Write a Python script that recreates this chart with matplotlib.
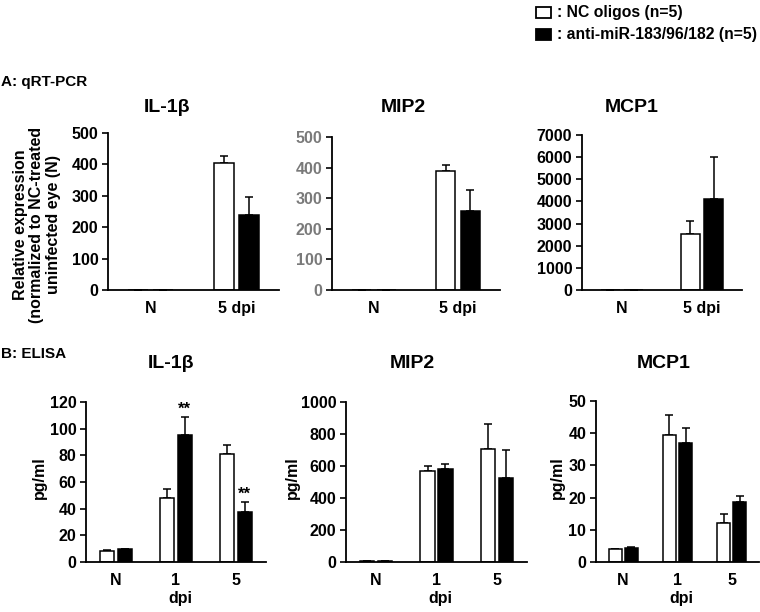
import matplotlib
matplotlib.use("Agg")
import matplotlib.pyplot as plt
import numpy as np
from matplotlib.patches import Rectangle

plt.rcParams['font.family'] = ['Liberation Sans', 'DejaVu Sans']
plt.rcParams['font.weight'] = 'bold'

# ---- Data ----
qpcr_cats = ['N', '5 dpi']
qpcr_titles = ['IL-1β', 'MIP2', 'MCP1']
qpcr_nc = [[1, 405], [1, 389], [1, 2529]]
qpcr_nc_err = [[0, 23], [0, 18], [0, 587]]
qpcr_anti = [[1, 238], [1, 259], [1, 4124]]
qpcr_anti_err = [[0, 58], [0, 67], [0, 1897]]
qpcr_ymax = [500, 500, 7000]
qpcr_ystep = [100, 100, 1000]

elisa_cats = ['N', '1', '5']
elisa_titles = ['IL-1β', 'MIP2', 'MCP1']
elisa_nc = [[8.5, 48.3, 81.2], [5, 569, 704], [4.0, 39.4, 12.1]]
elisa_nc_err = [[0.2, 6.2, 6.2], [1, 31, 158], [0.1, 6.4, 2.8]]
elisa_anti = [[9.5, 95.6, 37.6], [5, 579, 523], [4.2, 37.0, 18.6]]
elisa_anti_err = [[0.2, 13.0, 7.2], [1, 31, 177], [0.4, 4.5, 1.8]]
elisa_ymax = [120, 1000, 50]
elisa_ystep = [20, 200, 10]
elisa_stars = [[None, '**', '**'], [None, None, None], [None, None, None]]

W, H = 760, 612
fig = plt.figure(figsize=(W / 100, H / 100), dpi=100)

FS = 11.5


def add_ax(left, right, top, bottom):
    return fig.add_axes([left / W, 1 - bottom / H, (right - left) / W, (bottom - top) / H])


def draw(ax, cats, nc, nce, anti, antie, ymax, ystep, tickcolor='black', stars=None):
    x = np.arange(len(cats))
    w = 0.235
    off = 0.148
    ax.bar(x - off, nc, w, color='white', edgecolor='black', linewidth=1.1, zorder=2)
    ax.bar(x + off, anti, w, color='black', edgecolor='black', linewidth=1.1, zorder=2)
    for xs, vals, errs in ((x - off, nc, nce), (x + off, anti, antie)):
        ax.errorbar(xs, vals, yerr=[np.zeros(len(vals)), errs], fmt='none',
                    ecolor='black', elinewidth=1.1, capsize=3, capthick=1.1, zorder=1)
    if stars:
        for i, s in enumerate(stars):
            if s:
                ax.text(x[i] + off, anti[i] + antie[i] + ymax * 0.005, s, ha='center', va='bottom',
                        fontsize=12, fontweight='bold')
    ax.set_xlim(-0.5, len(cats) - 0.5)
    ax.set_ylim(0, ymax)
    ax.set_yticks(np.arange(0, ymax + ystep / 2, ystep))
    ax.set_xticks(x)
    ax.set_xticklabels(cats, fontsize=FS, fontweight='bold')
    ax.tick_params(axis='x', length=0, pad=8)
    ax.tick_params(axis='y', length=4, width=1.2, pad=3, labelsize=FS, labelcolor=tickcolor)
    for lab in ax.get_yticklabels():
        lab.set_fontweight('bold')
    for s in ('top', 'right'):
        ax.spines[s].set_visible(False)
    for s in ('left', 'bottom'):
        ax.spines[s].set_linewidth(1.3)
    ax.patch.set_alpha(0)


# top row
top_rects = [(108, 279, 133, 290), (332, 500, 137, 290), (582, 742, 135, 290)]
top_title_x = [167, 403, 632]
for i in range(3):
    ax = add_ax(*top_rects[i])
    draw(ax, qpcr_cats, qpcr_nc[i], qpcr_nc_err[i], qpcr_anti[i], qpcr_anti_err[i],
         qpcr_ymax[i], qpcr_ystep[i], tickcolor='#7a7a7a' if i == 1 else 'black')
    fig.text(top_title_x[i] / W, 1 - 107 / H, qpcr_titles[i], ha='center', va='center',
             fontsize=14, fontweight='bold')

fig.text(37 / W, 1 - 225 / H, 'Relative expression\n(normalized to NC-treated\nuninfected eye (N)',
         rotation=90, ha='center', va='center', fontsize=FS, fontweight='bold', linespacing=1.15)

# bottom row
bot_rects = [(86, 266, 402, 562), (346, 527, 402, 562), (596, 759, 401, 562)]
bot_title_x = [171, 412, 664]
ylab_x = [39, 292, 557]
for i in range(3):
    ax = add_ax(*bot_rects[i])
    draw(ax, elisa_cats, elisa_nc[i], elisa_nc_err[i], elisa_anti[i], elisa_anti_err[i],
         elisa_ymax[i], elisa_ystep[i], stars=elisa_stars[i])
    fig.text(bot_title_x[i] / W, 1 - 363 / H, elisa_titles[i], ha='center', va='center',
             fontsize=14, fontweight='bold')
    fig.text(ylab_x[i] / W, 1 - 478 / H, 'pg/ml', rotation=90, ha='center', va='center',
             fontsize=FS, fontweight='bold')
    cx = (bot_rects[i][0] + bot_rects[i][1]) / 2 + 4
    fig.text(cx / W, 1 - 598 / H, 'dpi', ha='center', va='center', fontsize=FS, fontweight='bold')

fig.text(1 / W, 1 - 82 / H, 'A: qRT-PCR', ha='left', va='center', fontsize=11, fontweight='bold')
fig.text(1 / W, 1 - 354 / H, 'B: ELISA', ha='left', va='center', fontsize=11, fontweight='bold')

# legend
fig.patches.append(Rectangle((536 / W, 1 - 18 / H), 15 / W, 11 / H, transform=fig.transFigure,
                             facecolor='white', edgecolor='black', linewidth=1.3))
fig.patches.append(Rectangle((536 / W, 1 - 40 / H), 15 / W, 11 / H, transform=fig.transFigure,
                             facecolor='black', edgecolor='black', linewidth=1.3))
fig.text(557 / W, 1 - 12 / H, ': NC oligos (n=5)', ha='left', va='center', fontsize=11.3, fontweight='bold')
fig.text(557 / W, 1 - 35 / H, ': anti-miR-183/96/182 (n=5)', ha='left', va='center', fontsize=11.3,
         fontweight='bold')

fig.savefig('out.png', dpi=100)
